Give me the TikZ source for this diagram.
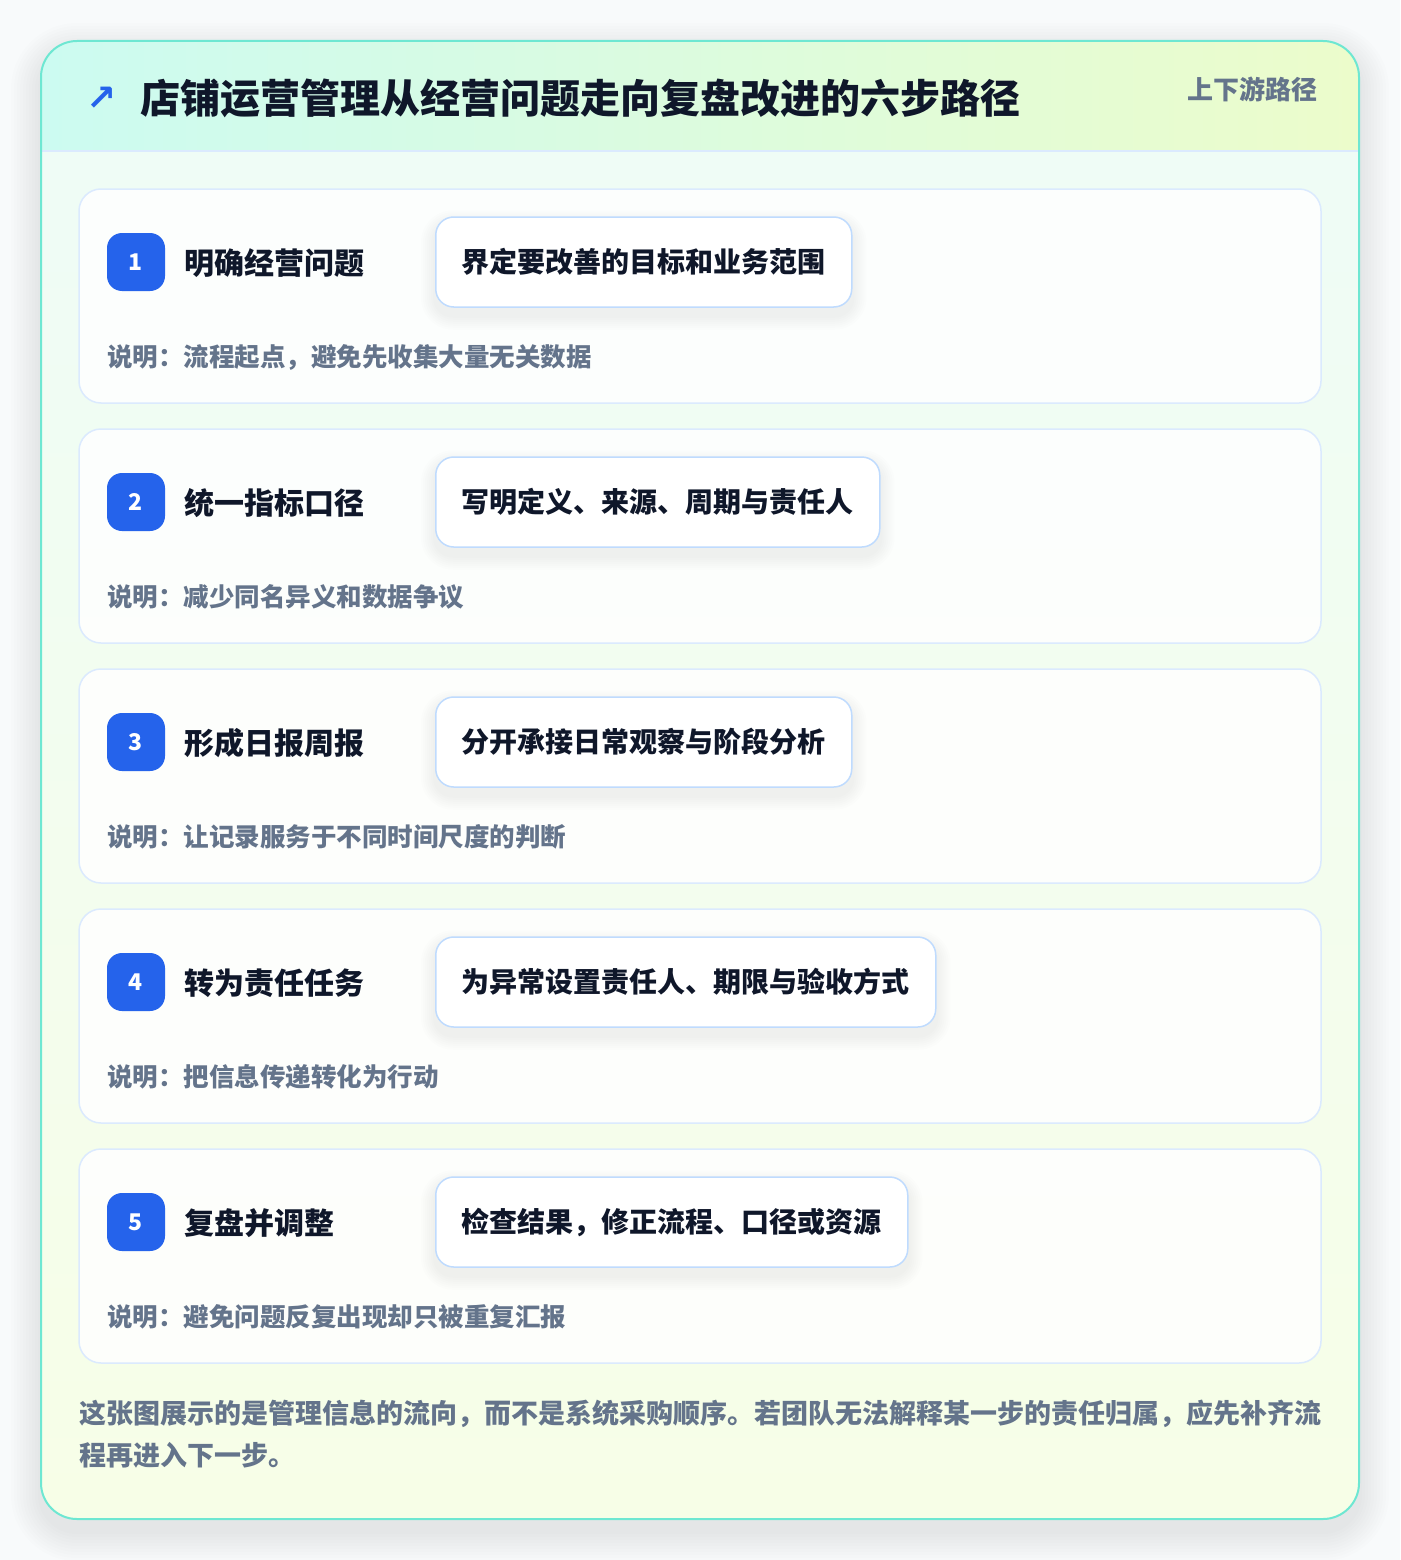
\documentclass[tikz,border=0pt]{standalone}
\usepackage{fontspec}
\setmainfont{Noto Sans CJK SC}
\newfontfamily\arrowfont{DejaVu Sans}
\usetikzlibrary{calc}
\pgfdeclarelayer{front}
\pgfsetlayers{main,front}

\definecolor{pagebg}{HTML}{F8FAFB}
\definecolor{frame}{HTML}{6EE7D2}
\definecolor{headL}{HTML}{CCFBF1}
\definecolor{headR}{HTML}{ECFCCB}
\definecolor{bodyT}{HTML}{EEFCF7}
\definecolor{bodyB}{HTML}{F7FEE7}
\definecolor{cardline}{HTML}{DBEAFE}
\definecolor{pillline}{HTML}{BFDBFE}
\definecolor{accent}{HTML}{2563EB}
\definecolor{ink}{HTML}{0F172A}
\definecolor{muted}{HTML}{64748B}

\tikzset{
 card/.style={draw=cardline, line width=1.5, rounded corners=22, fill=white, fill opacity=.85},
 badge/.style={fill=accent, rounded corners=15, minimum size=58, inner sep=0, text=white,
   font=\fontsize{23}{23}\selectfont\bfseries},
 steptitle/.style={anchor=west, inner sep=0, text=ink, font=\fontsize{30}{30}\selectfont\bfseries},
 pill/.style={anchor=west, draw=pillline, line width=1.5, fill=white, rounded corners=18,
   minimum height=90, inner xsep=26, text=ink, font=\fontsize{28}{28}\selectfont\bfseries},
 note/.style={anchor=west, inner sep=0, text=muted, font=\fontsize{25.5}{25.5}\selectfont\bfseries},
 haze/.style={black, opacity=#1}
}

\begin{document}
\begin{tikzpicture}[x=1pt, y=-1pt]
\useasboundingbox (0,0) rectangle (1400,1560);
\fill[pagebg] (0,0) rectangle (1400,1560);
% soft shadow of the panel
\foreach \s in {3,6,...,30}
  \fill[haze=.007, rounded corners=36+\s] (41-\s,41-\s+12) rectangle (1359+\s,1519+\s+12);
\begin{scope}
 \clip[rounded corners=36] (41,41) rectangle (1359,1519);
 \shade[top color=bodyT, bottom color=bodyB] (41,41) rectangle (1359,1519);
 \shade[left color=headL, right color=headR] (41,41) rectangle (1359,151);
\end{scope}
\draw[cardline, line width=1.5] (41,151) -- (1359,151);
\draw[frame, line width=2, rounded corners=36] (41,41) rectangle (1359,1519);

\node[text=accent, inner sep=0, font=\arrowfont\bfseries\fontsize{36}{36}\selectfont] (icon) at (102,99) {↗};
\node[anchor=west, inner sep=0, text=ink, font=\fontsize{40}{40}\selectfont\bfseries] (title) at (140,98)
  {店铺运营管理从经营问题走向复盘改进的六步路径};
\node[anchor=east, inner sep=0, text=muted, font=\fontsize{26}{26}\selectfont\bfseries] (tag) at (1318,89)
  {上下游路径};

\foreach \i/\name/\task/\info [evaluate=\i as \top using 189+240*(\i-1)] in {
  1/明确经营问题/界定要改善的目标和业务范围/流程起点，避免先收集大量无关数据,
  2/统一指标口径/写明定义、来源、周期与责任人/减少同名异义和数据争议,
  3/形成日报周报/分开承接日常观察与阶段分析/让记录服务于不同时间尺度的判断,
  4/转为责任任务/为异常设置责任人、期限与验收方式/把信息传递转化为行动,
  5/复盘并调整/检查结果，修正流程、口径或资源/避免问题反复出现却只被重复汇报} {
 \draw[card] (79,\top) rectangle ++(1242,214);
 \node[badge] (badge\i) at (136,\top+73) {\i};
 \node[steptitle] (title\i) at (184,\top+74) {\name};
 \begin{pgfonlayer}{front}
  \node[pill] (task\i) at (435,\top+73) {\task};
 \end{pgfonlayer}
 \foreach \s in {2,4,...,14}
   \fill[haze=.006, rounded corners=18+\s] ($(task\i.north west)+(-\s,-\s+8)$) rectangle ($(task\i.south east)+(\s,\s+8)$);
 \node[note] (note\i) at (107,\top+168) {说明：\info};
}

\node[anchor=north west, inner sep=0, align=left, text=muted,
  font=\fontsize{27}{42}\selectfont\bfseries] (footer) at (79,1400)
  {这张图展示的是管理信息的流向，而不是系统采购顺序。若团队无法解释某一步的责任归属，应先补齐流\\程再进入下一步。};
\end{tikzpicture}
\end{document}
